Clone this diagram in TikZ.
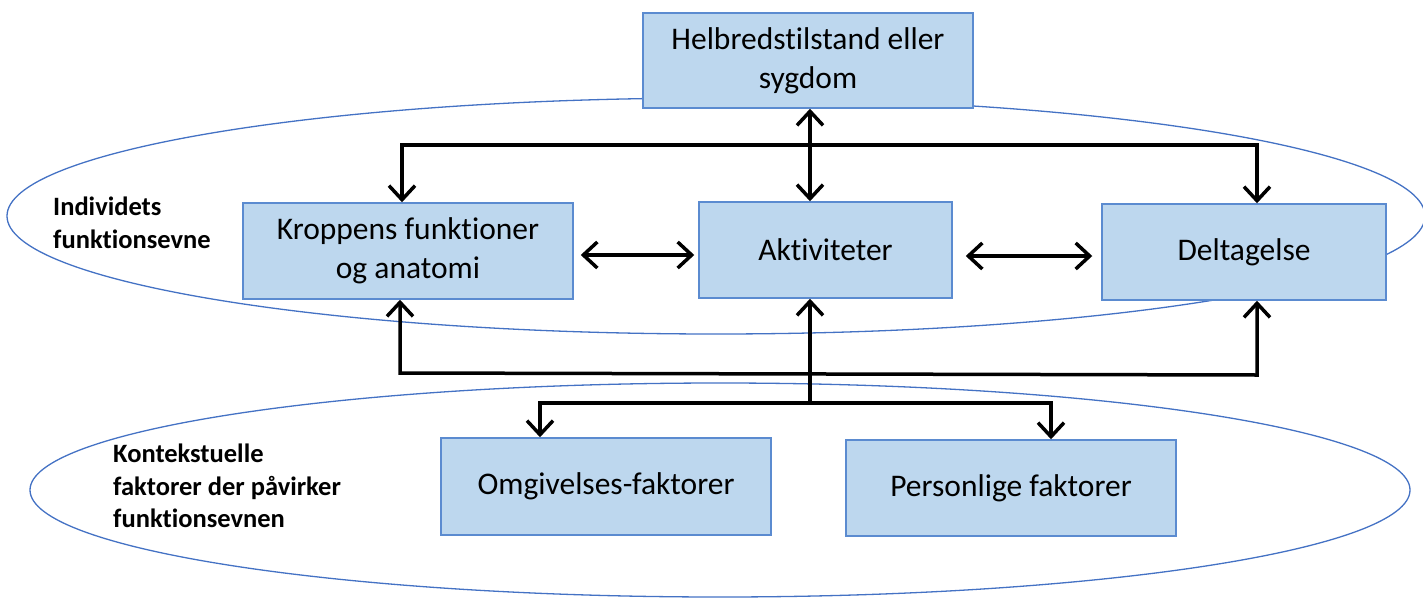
\documentclass[tikz,border=0pt]{standalone}
\usepackage{fontspec}
\setmainfont{Carlito}[Ligatures=NoCommon]
\usetikzlibrary{arrows.meta}
\definecolor{boxfill}{HTML}{BDD7EE}
\definecolor{boxline}{HTML}{5B8BD0}
\definecolor{ellline}{HTML}{4472C4}
\tikzset{
  box/.style={draw=boxline, line width=1.5pt, fill=boxfill, rectangle, inner sep=0pt, align=center,
    font=\fontsize{31.5}{39}\selectfont},
  lbl/.style={inner sep=0pt, align=left, font=\fontsize{26.5}{32.5}\selectfont\bfseries},
  conn/.style={draw=black, line width=3.5pt, arrows={-}},
  tip/.tip={Straight Barb[length=14pt,width=26pt]},
  ell/.style={draw=ellline, line width=1.3pt}
}
\begin{document}
\begin{tikzpicture}[x=1pt,y=-1pt]
\useasboundingbox (0,0) rectangle (1423,597);
% ellipses
\draw[ell] (716,216) ellipse [x radius=709pt, y radius=118pt];
\draw[ell] (720,490) ellipse [x radius=690pt, y radius=107pt];
% labels
\node[lbl, anchor=north west] (lind) at (53,197) {Individets\\funktionsevne};
\node[lbl, anchor=north west] (lkon) at (113,444) {Kontekstuelle\\faktorer der påvirker\\funktionsevnen};
% boxes
\node[box, minimum width=330pt, minimum height=95pt] (helb) at (808,60.5) {Helbredstilstand eller\\sygdom};
\node[box, minimum width=330pt, minimum height=96pt] (kro) at (408,251) {Kroppens funktioner\\og anatomi};
\node[box, minimum width=253pt, minimum height=96pt] (akt) at (825.5,250) {Aktiviteter};
\node[box, minimum width=284pt, minimum height=96pt] (del) at (1244,252) {Deltagelse};
\node[box, minimum width=330pt, minimum height=97pt] (omg) at (606,486.5) {Omgivelses-faktorer};
\node[box, minimum width=330pt, minimum height=96pt] (per) at (1011,488) {Personlige faktorer};
% helper coordinates
\coordinate (cx) at (810,0);
\coordinate (tl) at (402,145);
\coordinate (tr) at (1257,145);
\coordinate (bl) at (400,373);
\coordinate (br) at (1257,375);
\coordinate (ml) at (540,403);
\coordinate (mr) at (1051,403);
\coordinate (mc) at (810,403);
% connectors
\draw[conn, tip-tip] (helb.south -| cx) -- (akt.north -| cx);
\draw[conn, tip-tip] (kro.north -| tl) -- (tl) -- (tr) -- (del.north -| tr);
\draw[conn, tip-tip] ([shift={(7,4)}]kro.east) -- ([shift={(-4,5)}]akt.west);
\draw[conn, tip-tip] ([shift={(13,6)}]akt.east) -- ([shift={(-9,4)}]del.west);
\draw[conn, tip-tip] (kro.south -| bl) -- (bl) -- (br) -- (del.south -| br);
\draw[conn, -tip] (mc) -- (akt.south -| mc);
\draw[conn, tip-tip] (omg.north -| ml) -- (ml) -- (mr) -- (per.north -| mr);
\end{tikzpicture}
\end{document}
